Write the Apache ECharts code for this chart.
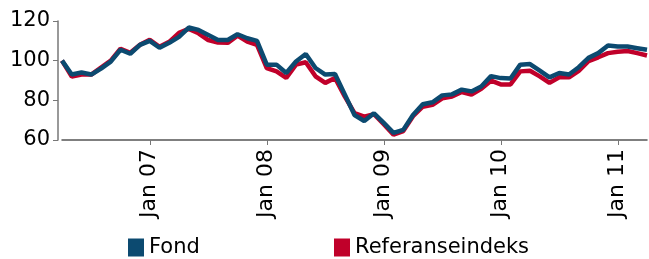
<!DOCTYPE html>
<html>
<head>
<meta charset="utf-8">
<script src="https://cdn.jsdelivr.net/npm/echarts@6/dist/echarts.min.js"></script>
<style>
  html, body { margin: 0; padding: 0; background: #fff; }
  #chart { width: 649px; height: 259px; }
</style>
</head>
<body>
<div id="chart"></div>
<script>
// monthly points, Apr 2006 - Apr 2011
const months = [
  'Apr 06', 'May 06', 'Jun 06', 'Jul 06', 'Aug 06', 'Sep 06', 'Oct 06', 'Nov 06', 'Dec 06',
  'Jan 07', 'Feb 07', 'Mar 07', 'Apr 07', 'May 07', 'Jun 07', 'Jul 07', 'Aug 07', 'Sep 07', 'Oct 07', 'Nov 07', 'Dec 07',
  'Jan 08', 'Feb 08', 'Mar 08', 'Apr 08', 'May 08', 'Jun 08', 'Jul 08', 'Aug 08', 'Sep 08', 'Oct 08', 'Nov 08', 'Dec 08',
  'Jan 09', 'Feb 09', 'Mar 09', 'Apr 09', 'May 09', 'Jun 09', 'Jul 09', 'Aug 09', 'Sep 09', 'Oct 09', 'Nov 09', 'Dec 09',
  'Jan 10', 'Feb 10', 'Mar 10', 'Apr 10', 'May 10', 'Jun 10', 'Jul 10', 'Aug 10', 'Sep 10', 'Oct 10', 'Nov 10', 'Dec 10',
  'Jan 11', 'Feb 11', 'Mar 11', 'Apr 11'
];

const fond = [
  100, 93, 94, 93, 96, 99.5, 105.5, 103.5, 108,
  110, 106.5, 109, 112, 116.7, 115.5, 113, 110.4, 110.4, 113.3, 111.3, 110,
  98, 98, 93.8, 99.6, 103.4, 96.3, 93, 93.3, 83, 72.6, 69.6, 73.5,
  68.6, 63.6, 65.1, 72.6, 78, 79, 82.5, 83, 85.4, 84.5, 87, 92.2,
  91.2, 91, 98, 98.3, 95, 91.6, 93.8, 93, 96.7, 101.4, 103.8, 107.6,
  107.1, 107.1, 106.3, 105.5
];

const referanse = [
  100, 92, 93, 93, 96.5, 100, 106, 104, 108,
  110.5, 107, 109.5, 114, 116, 113.8, 110.4, 109.1, 109, 112.6, 109.6, 108,
  96.3, 94.6, 91.3, 98, 99.2, 92.1, 88.8, 91.3, 82, 73.5, 71.8, 73,
  68, 62.7, 64.5, 72, 76.8, 77.7, 81, 81.9, 84.2, 82.9, 85.8, 89.9,
  88, 88, 94.6, 94.9, 92.1, 88.8, 91.6, 91.6, 94.9, 99.7, 101.7, 103.8,
  104.5, 104.9, 103.8, 102.6
];

const yTicks = { min: 60, max: 120, step: 20 };

const isJan = (i, v) => v.indexOf('Jan') === 0;
const font = 'DejaVu Sans';

let option = {
  animation: false,
  grid: { left: 62, right: 2, top: 21, bottom: 119 },
  legend: [
    {
      data: ['Fond'],
      left: 123, top: 232,
      icon: 'rect', itemWidth: 16, itemHeight: 18,
      textStyle: { fontFamily: font, fontSize: 21, color: '#000' },
    },
    {
      data: ['Referanseindeks'],
      left: 329, top: 232,
      icon: 'rect', itemWidth: 16, itemHeight: 18,
      textStyle: { fontFamily: font, fontSize: 21, color: '#000' },
    },
  ],
  xAxis: {
    type: 'category',
    boundaryGap: false,
    data: months,
    axisLine: { lineStyle: { color: '#555', width: 1.5 } },
    axisTick: { interval: isJan, length: 5, lineStyle: { color: '#777' } },
    axisLabel: {
      interval: isJan,
      rotate: 90,
      margin: 9,
      padding: [10, 0, 0, 0],
      fontFamily: font,
      fontSize: 22,
      color: '#000',
    },
    splitLine: { show: false },
  },
  yAxis: {
    type: 'value',
    min: yTicks.min,
    max: yTicks.max,
    interval: yTicks.step,
    offset: 4,
    axisLine: { show: true, lineStyle: { color: '#777', width: 1.5 } },
    axisTick: { show: true, length: 5, lineStyle: { color: '#777' } },
    axisLabel: { margin: 8, fontFamily: font, fontSize: 21, color: '#000' },
    splitLine: { show: false },
  },
  series: [
    {
      name: 'Referanseindeks',
      type: 'line',
      data: referanse,
      symbol: 'none',
      z: 2,
      itemStyle: { color: '#c0002a' },
      lineStyle: { color: '#c0002a', width: 4.5 },
    },
    {
      name: 'Fond',
      type: 'line',
      data: fond,
      symbol: 'none',
      z: 3,
      itemStyle: { color: '#0c4a70' },
      lineStyle: { color: '#0c4a70', width: 4.5 },
    },
  ],
};

let myChart = echarts.init(document.getElementById('chart'));
myChart.setOption(option);
</script>
</body>
</html>
